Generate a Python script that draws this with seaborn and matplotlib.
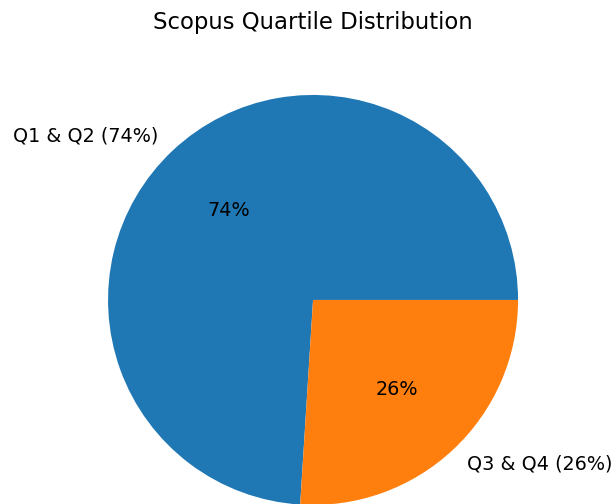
import matplotlib
matplotlib.use("Agg")
import matplotlib.pyplot as plt
import seaborn as sns

# Quartile shares (%)
labels = ['Q1 & Q2 (74%)', 'Q3 & Q4 (26%)']
shares = [74, 26]

sns.set_style("white")
plt.rcParams['text.color'] = 'black'
colors = sns.color_palette("tab10", 2)

fig = plt.figure(figsize=(6.14, 5.04), dpi=100)
ax = fig.add_axes([0.0925, -0.1036, 0.8347, 1.0169])
ax.pie(shares, labels=labels, colors=colors, autopct='%1.0f%%',
       textprops={'fontsize': 13.8, 'color': 'black'},
       wedgeprops={'linewidth': 0, 'edgecolor': 'none'})
ax.set_position([0.0925, -0.1036, 0.8347, 1.0169])

fig.text(0.51, 0.956, 'Scopus Quartile Distribution', ha='center', va='center',
         fontsize=16.4, color='black')

fig.savefig('out.png', dpi=100)
